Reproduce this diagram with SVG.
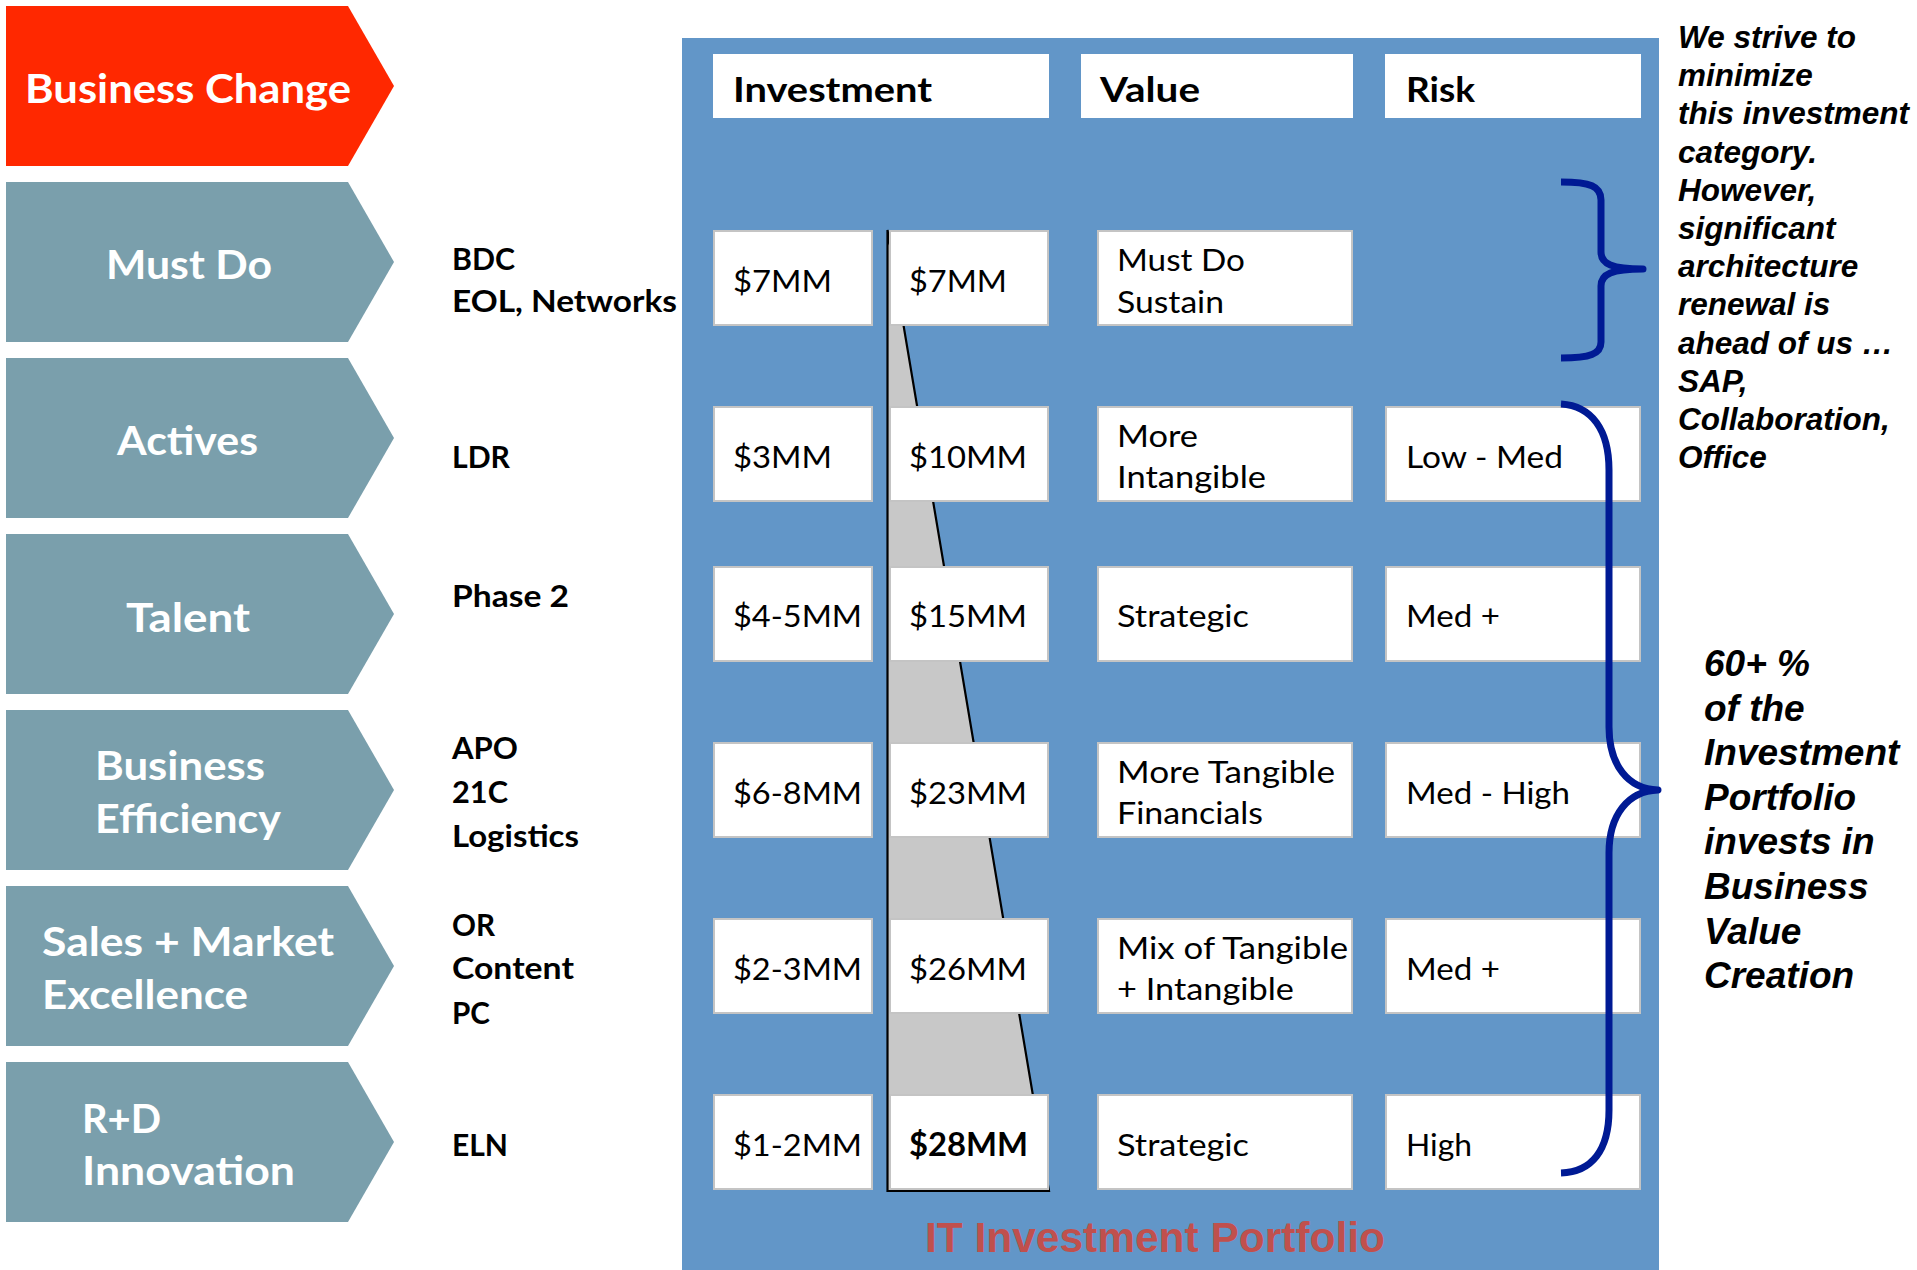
<svg xmlns="http://www.w3.org/2000/svg" width="1917" height="1270" viewBox="0 0 1917 1270">
<style>
.arrow{fill:#7A9FAC}
.arrow-red{fill:#FF2800}
.atx{font-family:Lato,"Liberation Sans",sans-serif;font-weight:700;font-size:40px;fill:#FFFFFF}
.lbl{font-family:Lato,"Liberation Sans",sans-serif;font-weight:700;font-size:31px;fill:#000000}
.hdr{font-family:Lato,"Liberation Sans",sans-serif;font-weight:700;font-size:35px;fill:#000000}
.cell{font-family:Lato,"Liberation Sans",sans-serif;font-weight:400;font-size:31.5px;fill:#000000}
.bold{font-weight:700}
.hbox{fill:#FFFFFF}
.box{fill:#FFFFFF;stroke:#C4C4C4;stroke-width:2}
.brace{fill:none;stroke:#001A94;stroke-width:7;stroke-linejoin:round}
.note{font-family:"Liberation Sans",Arial,sans-serif;font-weight:700;font-style:italic;font-size:31.5px;fill:#000000}
.note2{font-size:37px}
.title{font-family:"Liberation Sans",Arial,sans-serif;font-weight:700;font-size:42.5px;fill:#C0504D}
</style>
<rect x="0" y="0" width="1917" height="1270" fill="#FFFFFF"/>

<g id="panel">
<rect x="682" y="38" width="977" height="1232" fill="#6296C8"/>
</g>

<g id="categories">
<g id="cat-business-change">
<path class="arrow-red" d="M6,6 H348 L394,86 L348,166 H6 Z"/>
<text class="atx" x="25" y="103" textLength="326" lengthAdjust="spacingAndGlyphs">Business Change</text>
</g>
<g id="cat-must-do">
<path class="arrow" d="M6,182 H348 L394,262 L348,342 H6 Z"/>
<text class="atx" x="106" y="279" textLength="166" lengthAdjust="spacingAndGlyphs">Must Do</text>
</g>
<g id="cat-actives">
<path class="arrow" d="M6,358 H348 L394,438 L348,518 H6 Z"/>
<text class="atx" x="117" y="455" textLength="141" lengthAdjust="spacingAndGlyphs">Actives</text>
</g>
<g id="cat-talent">
<path class="arrow" d="M6,534 H348 L394,614 L348,694 H6 Z"/>
<text class="atx" x="126" y="632" textLength="124" lengthAdjust="spacingAndGlyphs">Talent</text>
</g>
<g id="cat-business-efficiency">
<path class="arrow" d="M6,710 H348 L394,790 L348,870 H6 Z"/>
<text class="atx" x="95" y="780" textLength="170" lengthAdjust="spacingAndGlyphs">Business</text>
<text class="atx" x="95" y="833" textLength="186" lengthAdjust="spacingAndGlyphs">Efficiency</text>
</g>
<g id="cat-sales-market">
<path class="arrow" d="M6,886 H348 L394,966 L348,1046 H6 Z"/>
<text class="atx" x="42" y="956" textLength="292" lengthAdjust="spacingAndGlyphs">Sales + Market</text>
<text class="atx" x="42" y="1009" textLength="206" lengthAdjust="spacingAndGlyphs">Excellence</text>
</g>
<g id="cat-rd-innovation">
<path class="arrow" d="M6,1062 H348 L394,1142 L348,1222 H6 Z"/>
<text class="atx" x="82" y="1133" textLength="79" lengthAdjust="spacingAndGlyphs">R+D</text>
<text class="atx" x="82" y="1185" textLength="213" lengthAdjust="spacingAndGlyphs">Innovation</text>
</g>
</g>

<g id="projects">
<text class="lbl" x="452" y="270" textLength="63" lengthAdjust="spacingAndGlyphs">BDC</text>
<text class="lbl" x="452" y="312" textLength="225" lengthAdjust="spacingAndGlyphs">EOL, Networks</text>
<text class="lbl" x="452" y="468" textLength="58" lengthAdjust="spacingAndGlyphs">LDR</text>
<text class="lbl" x="452" y="607" textLength="117" lengthAdjust="spacingAndGlyphs">Phase 2</text>
<text class="lbl" x="452" y="759" textLength="66" lengthAdjust="spacingAndGlyphs">APO</text>
<text class="lbl" x="452" y="803" textLength="56" lengthAdjust="spacingAndGlyphs">21C</text>
<text class="lbl" x="452" y="847" textLength="127" lengthAdjust="spacingAndGlyphs">Logistics</text>
<text class="lbl" x="452" y="936" textLength="43" lengthAdjust="spacingAndGlyphs">OR</text>
<text class="lbl" x="452" y="979" textLength="122" lengthAdjust="spacingAndGlyphs">Content</text>
<text class="lbl" x="452" y="1024" textLength="38" lengthAdjust="spacingAndGlyphs">PC</text>
<text class="lbl" x="452" y="1156" textLength="56" lengthAdjust="spacingAndGlyphs">ELN</text>
</g>

<g id="headers">
<g id="hdr-investment">
<rect class="hbox" x="713" y="54" width="336" height="64"/>
<text class="hdr" x="733" y="102" textLength="199" lengthAdjust="spacingAndGlyphs">Investment</text>
</g>
<g id="hdr-value">
<rect class="hbox" x="1081" y="54" width="272" height="64"/>
<text class="hdr" x="1100" y="102" textLength="100" lengthAdjust="spacingAndGlyphs">Value</text>
</g>
<g id="hdr-risk">
<rect class="hbox" x="1385" y="54" width="256" height="64"/>
<text class="hdr" x="1406" y="102" textLength="69" lengthAdjust="spacingAndGlyphs">Risk</text>
</g>
</g>

<g id="cumulative-wedge">
<polygon points="887.5,230 1049,1191 887.5,1191" fill="#C8C8C8" stroke="#000000" stroke-width="2.2"/>
</g>

<g id="row-1">
<rect class="box" x="714" y="231" width="158" height="94"/>
<text class="cell" x="733" y="292" textLength="99" lengthAdjust="spacingAndGlyphs">$7MM</text>
<rect class="box" x="890" y="231" width="158" height="94"/>
<text class="cell" x="909" y="292" textLength="98" lengthAdjust="spacingAndGlyphs">$7MM</text>
<rect class="box" x="1098" y="231" width="254" height="94"/>
<text class="cell" x="1117" y="271" textLength="128" lengthAdjust="spacingAndGlyphs">Must Do</text>
<text class="cell" x="1117" y="313" textLength="107" lengthAdjust="spacingAndGlyphs">Sustain</text>
</g>

<g id="row-2">
<rect class="box" x="714" y="407" width="158" height="94"/>
<text class="cell" x="733" y="468" textLength="99" lengthAdjust="spacingAndGlyphs">$3MM</text>
<rect class="box" x="890" y="407" width="158" height="94"/>
<text class="cell" x="909" y="468" textLength="118" lengthAdjust="spacingAndGlyphs">$10MM</text>
<rect class="box" x="1098" y="407" width="254" height="94"/>
<text class="cell" x="1117" y="447" textLength="81" lengthAdjust="spacingAndGlyphs">More</text>
<text class="cell" x="1117" y="488" textLength="149" lengthAdjust="spacingAndGlyphs">Intangible</text>
<rect class="box" x="1386" y="407" width="254" height="94"/>
<text class="cell" x="1406" y="468" textLength="157" lengthAdjust="spacingAndGlyphs">Low - Med</text>
</g>

<g id="row-3">
<rect class="box" x="714" y="567" width="158" height="94"/>
<text class="cell" x="733" y="627" textLength="129" lengthAdjust="spacingAndGlyphs">$4-5MM</text>
<rect class="box" x="890" y="567" width="158" height="94"/>
<text class="cell" x="909" y="627" textLength="118" lengthAdjust="spacingAndGlyphs">$15MM</text>
<rect class="box" x="1098" y="567" width="254" height="94"/>
<text class="cell" x="1117" y="627" textLength="132" lengthAdjust="spacingAndGlyphs">Strategic</text>
<rect class="box" x="1386" y="567" width="254" height="94"/>
<text class="cell" x="1406" y="627" textLength="94" lengthAdjust="spacingAndGlyphs">Med +</text>
</g>

<g id="row-4">
<rect class="box" x="714" y="743" width="158" height="94"/>
<text class="cell" x="733" y="804" textLength="129" lengthAdjust="spacingAndGlyphs">$6-8MM</text>
<rect class="box" x="890" y="743" width="158" height="94"/>
<text class="cell" x="909" y="804" textLength="118" lengthAdjust="spacingAndGlyphs">$23MM</text>
<rect class="box" x="1098" y="743" width="254" height="94"/>
<text class="cell" x="1117" y="783" textLength="218" lengthAdjust="spacingAndGlyphs">More Tangible</text>
<text class="cell" x="1117" y="824" textLength="146" lengthAdjust="spacingAndGlyphs">Financials</text>
<rect class="box" x="1386" y="743" width="254" height="94"/>
<text class="cell" x="1406" y="804" textLength="164" lengthAdjust="spacingAndGlyphs">Med - High</text>
</g>

<g id="row-5">
<rect class="box" x="714" y="919" width="158" height="94"/>
<text class="cell" x="733" y="980" textLength="129" lengthAdjust="spacingAndGlyphs">$2-3MM</text>
<rect class="box" x="890" y="919" width="158" height="94"/>
<text class="cell" x="909" y="980" textLength="118" lengthAdjust="spacingAndGlyphs">$26MM</text>
<rect class="box" x="1098" y="919" width="254" height="94"/>
<text class="cell" x="1117" y="959" textLength="231" lengthAdjust="spacingAndGlyphs">Mix of Tangible</text>
<text class="cell" x="1117" y="1000" textLength="177" lengthAdjust="spacingAndGlyphs">+ Intangible</text>
<rect class="box" x="1386" y="919" width="254" height="94"/>
<text class="cell" x="1406" y="980" textLength="94" lengthAdjust="spacingAndGlyphs">Med +</text>
</g>

<g id="row-6">
<rect class="box" x="714" y="1095" width="158" height="94"/>
<text class="cell" x="733" y="1156" textLength="129" lengthAdjust="spacingAndGlyphs">$1-2MM</text>
<rect class="box" x="890" y="1095" width="158" height="94"/>
<text class="cell bold" x="909" y="1156" textLength="119" lengthAdjust="spacingAndGlyphs">$28MM</text>
<rect class="box" x="1098" y="1095" width="254" height="94"/>
<text class="cell" x="1117" y="1156" textLength="132" lengthAdjust="spacingAndGlyphs">Strategic</text>
<rect class="box" x="1386" y="1095" width="254" height="94"/>
<text class="cell" x="1406" y="1156" textLength="66" lengthAdjust="spacingAndGlyphs">High</text>
</g>

<g id="connectors">
<path id="brace-top" class="brace" d="M1561,182 C1590,182 1601,186 1601,200 L1601,252 C1601,264 1612,269 1643,269 C1612,269 1601,274 1601,286 L1601,342 C1601,354 1590,358 1561,358"/>
<path id="brace-bottom" class="brace" d="M1561,404 C1592,406 1609,430 1609,470 L1609,727 C1609,765 1628,789 1658,790 C1628,791 1609,815 1609,853 L1609,1110 C1609,1150 1592,1172 1561,1173"/>
</g>

<g id="title">
<text class="title" x="925" y="1252" textLength="460" lengthAdjust="spacingAndGlyphs">IT Investment Portfolio</text>
</g>

<g id="note-top">
<text class="note" x="1678" y="48">We strive to</text>
<text class="note" x="1678" y="86">minimize</text>
<text class="note" x="1678" y="124">this investment</text>
<text class="note" x="1678" y="163">category.</text>
<text class="note" x="1678" y="201">However,</text>
<text class="note" x="1678" y="239">significant</text>
<text class="note" x="1678" y="277">architecture</text>
<text class="note" x="1678" y="315">renewal is</text>
<text class="note" x="1678" y="354">ahead of us …</text>
<text class="note" x="1678" y="392">SAP,</text>
<text class="note" x="1678" y="430">Collaboration,</text>
<text class="note" x="1678" y="468">Office</text>
</g>

<g id="note-bottom">
<text class="note note2" x="1704" y="676">60+ %</text>
<text class="note note2" x="1704" y="721">of the</text>
<text class="note note2" x="1704" y="765">Investment</text>
<text class="note note2" x="1704" y="810">Portfolio</text>
<text class="note note2" x="1704" y="854">invests in</text>
<text class="note note2" x="1704" y="899">Business</text>
<text class="note note2" x="1704" y="944">Value</text>
<text class="note note2" x="1704" y="988">Creation</text>
</g>
</svg>
